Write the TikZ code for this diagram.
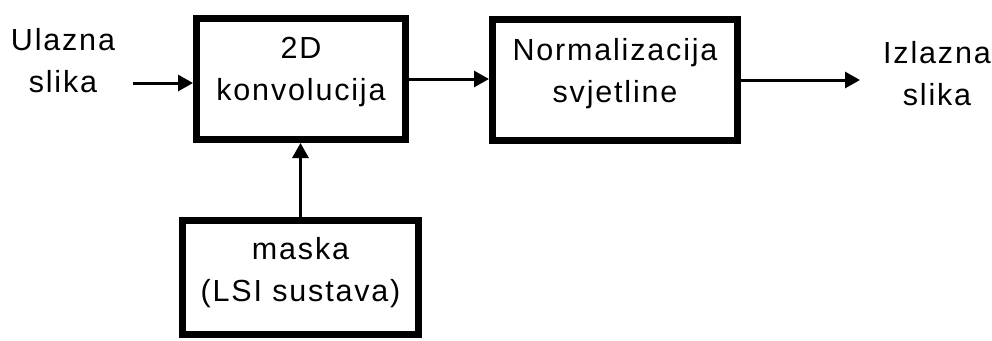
\documentclass[tikz,border=0pt]{standalone}
\usepackage{fontspec}
\setmainfont{Liberation Sans}[LetterSpace=6]
\usetikzlibrary{arrows.meta}
\begin{document}
\begin{tikzpicture}[x=1pt,y=-1pt,
  blk/.style={draw=black,line width=7pt,inner sep=0pt,align=center,fill=white},
  lbl/.style={inner sep=0pt,align=center},
  conn/.style={line width=3pt,-{Triangle[length=15pt,width=16pt]}},
  font=\fontsize{30.5}{42}\selectfont]
\useasboundingbox (0,0) rectangle (992,340);
\node[blk,minimum width=209pt,minimum height=121pt] (b1) at (301,79)
  {\rule{0pt}{24pt}2D\\konvolucija\rule[-24pt]{0pt}{24pt}};
\node[blk,minimum width=245pt,minimum height=121pt] (b2) at (615,80)
  {\rule{0pt}{25pt}Normalizacija\\svjetline\rule[-23pt]{0pt}{23pt}};
\node[blk,minimum width=236pt,minimum height=114pt] (b3) at (300.5,277.5)
  {\rule{0pt}{27pt}maska\\(LSI sustava)\rule[-22pt]{0pt}{22pt}};
\node[lbl] (in) at (63,71.5)
  {\rule{0pt}{24pt}Ulazna\\slika\rule[-24pt]{0pt}{24pt}};
\node[lbl] (outl) at (937,84)
  {\rule{0pt}{24pt}Izlazna\\slika\rule[-24pt]{0pt}{24pt}};
\coordinate (inS) at (133,83);
\coordinate (outE) at (860,80);
\draw[conn] (inS) -- (inS -| b1.west);
\draw[conn] (b1.east) -- (b1.east -| b2.west);
\draw[conn] (b2.east) -- (b2.east -| outE);
\draw[conn] (b3.north) -- (b3.north |- b1.south);
\end{tikzpicture}
\end{document}
